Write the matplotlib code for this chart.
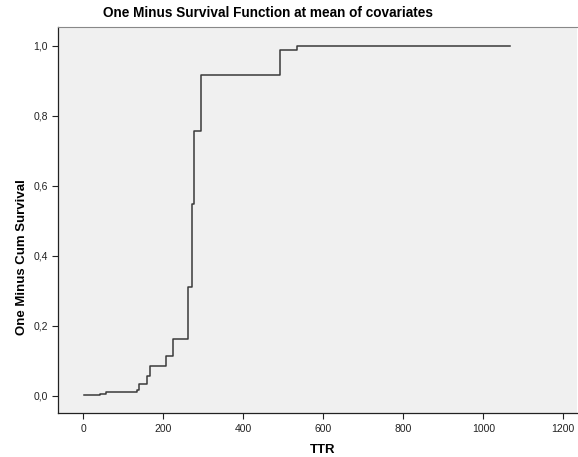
import numpy as np
import matplotlib
matplotlib.use("Agg")
import matplotlib.pyplot as plt
import matplotlib.ticker as ticker

plt.rcParams['font.family'] = ['Liberation Sans', 'DejaVu Sans']

# step points (time, 1 - cum survival)
ttr = [2, 42, 56, 135, 140, 160, 166, 207, 225, 261, 271, 276, 294, 491, 533, 1066]
one_minus_surv = [0.003, 0.005, 0.011, 0.016, 0.035, 0.056, 0.085, 0.113, 0.163,
                  0.311, 0.547, 0.757, 0.916, 0.986, 0.998, 0.998]

x_ticks = [0, 200, 400, 600, 800, 1000, 1200]
y_ticks = [0.0, 0.2, 0.4, 0.6, 0.8, 1.0]

fig = plt.figure(figsize=(5.78, 4.57), dpi=100)
ax = fig.add_axes([0.101, 0.096, 0.897, 0.845])
ax.set_facecolor('#f0f0f0')

ax.step(ttr, one_minus_surv, where='post', color='#3a3a3a', linewidth=1.1)

ax.set_xlim(-62.5, 1234)
ax.set_ylim(-0.049, 1.053)
ax.set_xticks(x_ticks)
ax.set_yticks(y_ticks)
ax.yaxis.set_major_formatter(ticker.FuncFormatter(lambda v, p: f"{v:.1f}".replace('.', ',')))
ax.tick_params(labelsize=7.5, length=4, width=0.8, colors='#222222', direction='out')

for side in ['left', 'bottom']:
    ax.spines[side].set_color('#222222')
    ax.spines[side].set_linewidth(0.9)
ax.spines['top'].set_color('#888888')
ax.spines['right'].set_visible(False)

fig.text(268 / 578, 1 - 13 / 457, 'One Minus Survival Function at mean of covariates',
         ha='center', va='center', fontsize=9.8, fontweight='bold')
fig.text(323 / 578, 1 - 450 / 457, 'TTR', ha='center', va='center',
         fontsize=9.5, fontweight='bold')
fig.text(22 / 578, 1 - 257 / 457, 'One Minus Cum Survival', ha='center', va='center',
         rotation=90, fontsize=9.5, fontweight='bold')

fig.savefig('out.png', dpi=100)
